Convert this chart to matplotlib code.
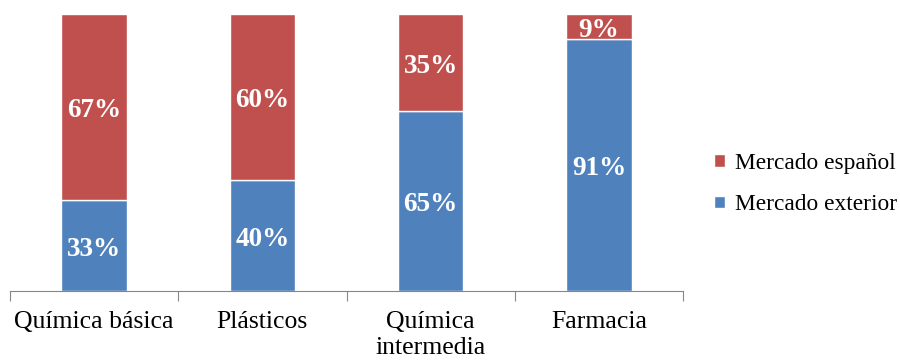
import matplotlib
matplotlib.use("Agg")
import matplotlib.pyplot as plt
import numpy as np

categories = ["Química básica", "Plásticos", "Química\nintermedia", "Farmacia"]
exterior = [33, 40, 65, 91]
espanol = [67, 60, 35, 9]

plt.rcParams["font.family"] = ["Liberation Serif", "DejaVu Serif"]

fig = plt.figure(figsize=(9, 3.63), dpi=100)
ax = fig.add_axes([0.011, 0.198, 0.748, 0.763])

x = np.arange(len(categories))
w = 0.39
b1 = ax.bar(x, exterior, w, color="#4F81BD", edgecolor="white", linewidth=1,
            label="Mercado exterior")
b2 = ax.bar(x, espanol, w, bottom=exterior, color="#C0504D", edgecolor="white",
            linewidth=1, label="Mercado español")

# labels sit a touch below the segment middle in the original
shift = 1.3
for xi, v in zip(x, exterior):
    ax.text(xi, v / 2 - shift, f"{v}%", ha="center", va="center", color="white",
            fontsize=19.5, fontweight="bold")
for xi, v, b in zip(x, espanol, exterior):
    ax.text(xi, b + v / 2 - shift, f"{v}%", ha="center", va="center",
            color="white", fontsize=19.5, fontweight="bold")

ax.set_xlim(-0.5, len(categories) - 0.5)
ax.set_ylim(0, 100)
ax.set_yticks([])
for s in ["top", "right", "left"]:
    ax.spines[s].set_visible(False)
ax.spines["bottom"].set_color("#868686")
ax.set_xticks(np.arange(len(categories) + 1) - 0.5, minor=False)
ax.set_xticklabels([])
ax.tick_params(axis="x", which="major", length=7, color="#868686")
ax.set_xticks(x, minor=True)
ax.set_xticklabels(categories, minor=True, fontsize=18.5, linespacing=1.25)
ax.tick_params(axis="x", which="minor", length=0, pad=14)

handles = [b2, b1]
ax.legend(handles, [h.get_label() for h in handles], loc="center left",
          bbox_to_anchor=(1.015, 0.386), frameon=False, fontsize=16.8,
          handlelength=0.45, handleheight=0.45, handletextpad=0.45,
          labelspacing=0.88)

fig.savefig("out.png", dpi=100)
